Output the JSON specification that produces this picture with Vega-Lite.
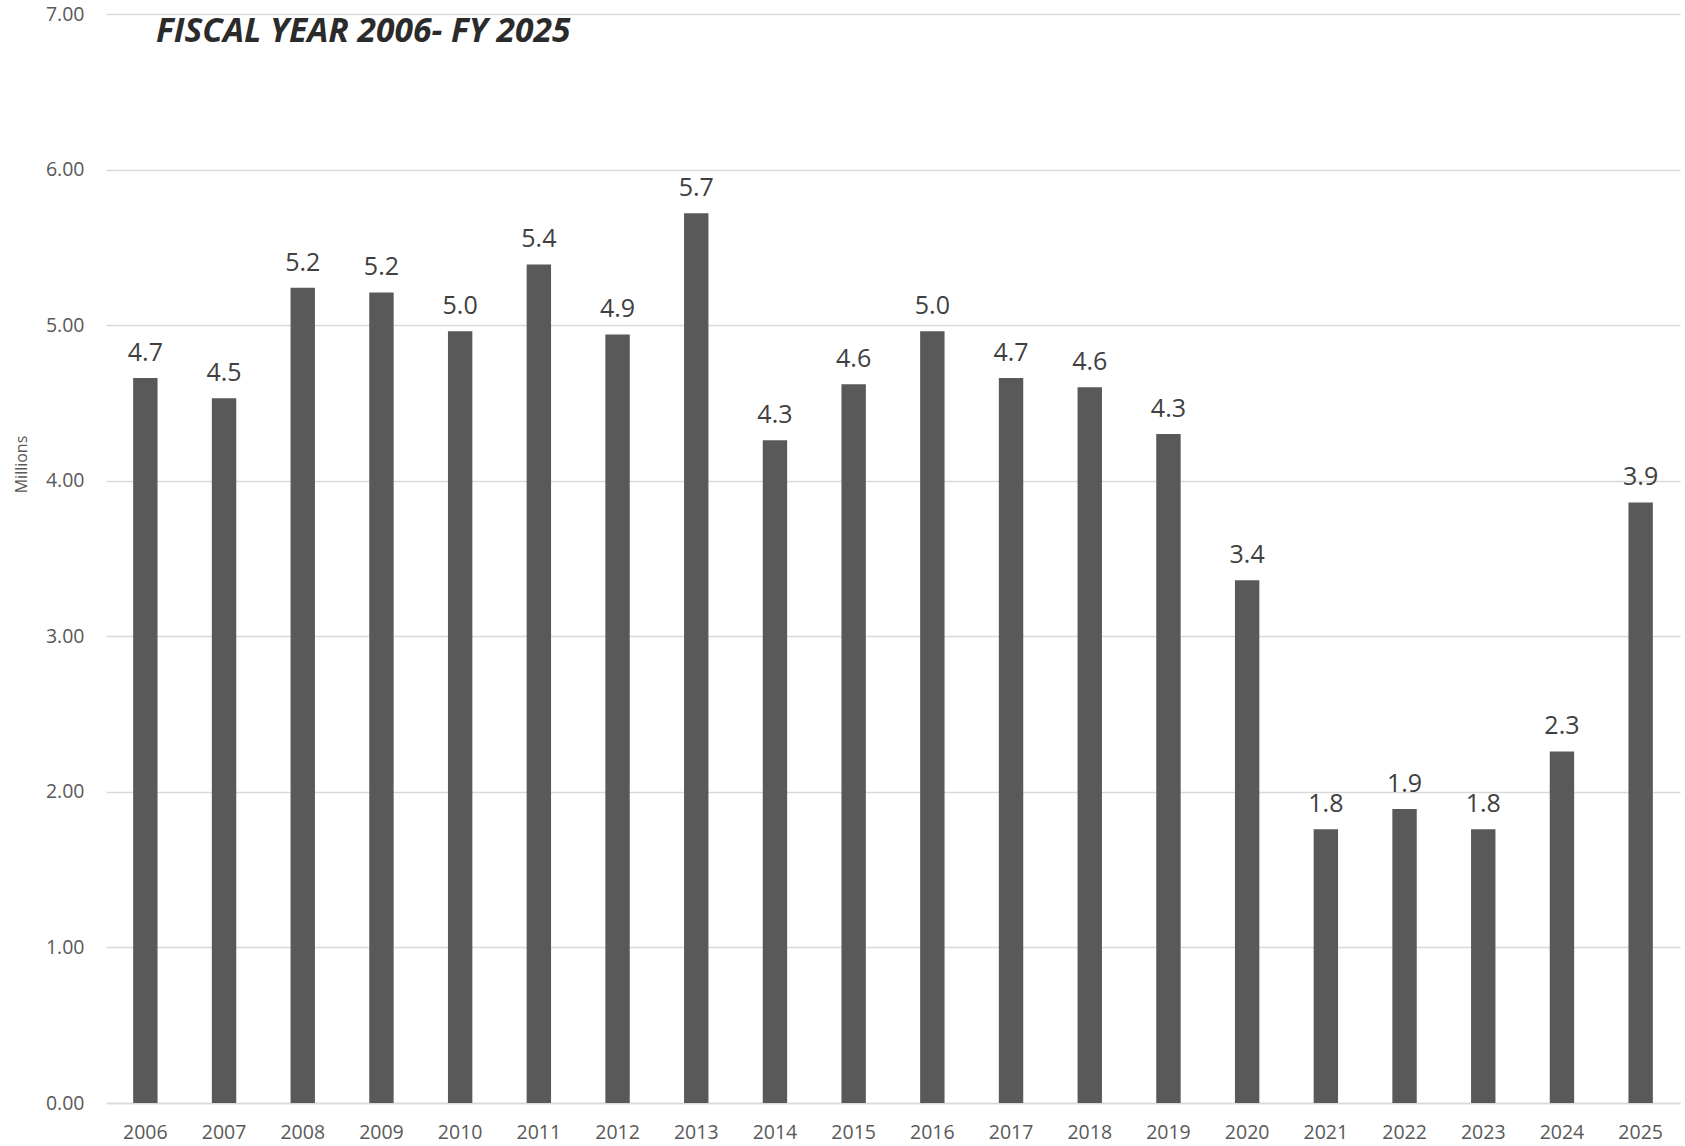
{
  "$schema": "https://vega.github.io/schema/vega-lite/v6.json",
  "autosize": {"type": "none"},
  "width": 1574,
  "height": 1089,
  "padding": {"left": 106, "top": 14, "right": 5, "bottom": 43},
  "background": "white",
  "config": {
    "font": "Open Sans",
    "view": {"stroke": null}
  },
  "title": {
    "text": "FISCAL YEAR 2006- FY 2025",
    "anchor": "start",
    "frame": "group",
    "orient": "top",
    "baseline": "alphabetic",
    "offset": 0,
    "dx": 50,
    "dy": 72,
    "font": "Open Sans",
    "fontSize": 33.6,
    "fontWeight": "bold",
    "fontStyle": "italic",
    "color": "#2b2b2b"
  },
  "data": {
    "values": [
      {"year": "2006", "value": 4.66},
      {"year": "2007", "value": 4.53},
      {"year": "2008", "value": 5.24},
      {"year": "2009", "value": 5.21},
      {"year": "2010", "value": 4.96},
      {"year": "2011", "value": 5.39},
      {"year": "2012", "value": 4.94},
      {"year": "2013", "value": 5.72},
      {"year": "2014", "value": 4.26},
      {"year": "2015", "value": 4.62},
      {"year": "2016", "value": 4.96},
      {"year": "2017", "value": 4.66},
      {"year": "2018", "value": 4.6},
      {"year": "2019", "value": 4.3},
      {"year": "2020", "value": 3.36},
      {"year": "2021", "value": 1.76},
      {"year": "2022", "value": 1.89},
      {"year": "2023", "value": 1.76},
      {"year": "2024", "value": 2.26},
      {"year": "2025", "value": 3.86}
    ]
  },
  "encoding": {
    "x": {
      "field": "year",
      "type": "ordinal",
      "sort": null,
      "scale": {"paddingInner": 0.69, "paddingOuter": 0.345},
      "axis": {
        "title": null,
        "labelAngle": 0,
        "labelFont": "Open Sans",
        "labelFontSize": 19.5,
        "labelColor": "#595959",
        "labelPadding": 20,
        "ticks": false,
        "tickSize": 0,
        "domain": true,
        "domainColor": "#d9d9d9",
        "domainWidth": 1.5,
        "grid": false
      }
    },
    "y": {
      "field": "value",
      "type": "quantitative",
      "scale": {"domain": [0, 7], "nice": false},
      "axis": {
        "title": "Millions",
        "titleFont": "Open Sans",
        "titleFontSize": 16,
        "titleFontWeight": "normal",
        "titleColor": "#595959",
        "titleAngle": 270,
        "titleAlign": "center",
        "titleBaseline": "middle",
        "titleX": -85,
        "titleY": 450,
        "values": [0, 1, 2, 3, 4, 5, 6, 7],
        "format": ".2f",
        "labelFont": "Open Sans",
        "labelFontSize": 19.5,
        "labelColor": "#595959",
        "labelPadding": 22,
        "ticks": false,
        "tickSize": 0,
        "domain": false,
        "grid": true,
        "gridColor": "#d9d9d9",
        "gridWidth": 1.5
      }
    }
  },
  "layer": [
    {
      "mark": {"type": "bar", "color": "#595959"}
    },
    {
      "mark": {
        "type": "text",
        "baseline": "alphabetic",
        "align": "center",
        "dy": -17,
        "font": "Open Sans",
        "fontSize": 25,
        "color": "#404040"
      },
      "encoding": {
        "text": {"field": "value", "type": "quantitative", "format": ".1f"}
      }
    }
  ]
}
